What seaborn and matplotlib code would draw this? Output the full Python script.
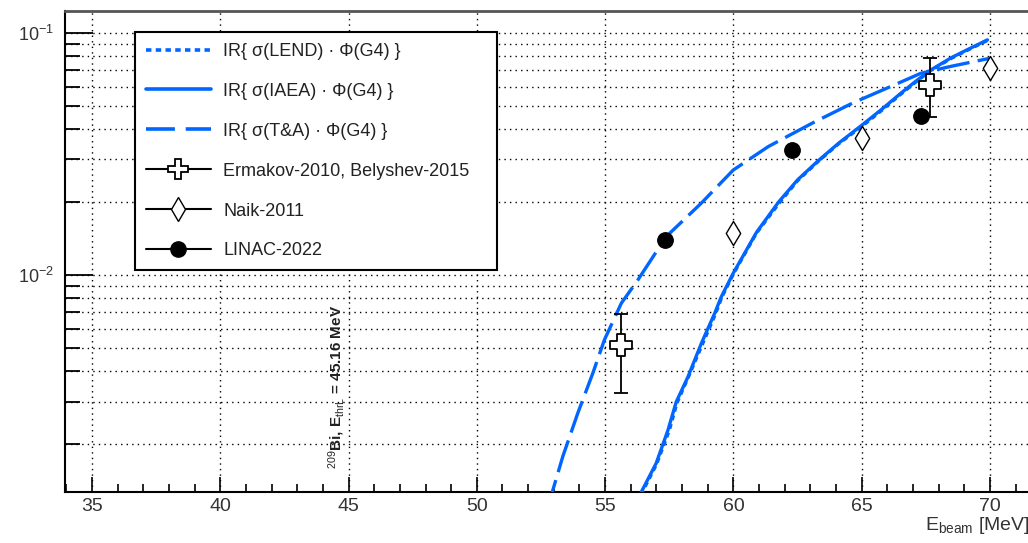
import numpy as np
import pandas as pd
import matplotlib
matplotlib.use("Agg")
import matplotlib.pyplot as plt
import seaborn as sns
from matplotlib.lines import Line2D
from matplotlib.ticker import LogLocator, MultipleLocator, NullFormatter, FixedLocator

# ---------------- data ----------------
iaea_x = [56.2, 56.41, 56.99, 57.45, 57.77, 58.23, 58.75, 59.27, 59.53, 60.0, 60.9, 61.76,
          62.5, 63.3, 64.1, 65.0, 65.8, 66.5, 67.1, 67.7, 68.5, 69.2, 69.9]
iaea_y = [0.00105, 0.00127, 0.00167, 0.00229, 0.00299, 0.0038, 0.00522, 0.00695, 0.00814,
          0.0102, 0.0150, 0.0200, 0.0247, 0.0296, 0.0350, 0.0415, 0.0485, 0.056, 0.063,
          0.0703, 0.079, 0.086, 0.0935]
lend_x = [56.2, 56.45, 57.0, 57.5, 57.8, 58.25, 58.8, 59.3, 59.55, 60.0, 60.9, 61.8,
          62.5, 63.3, 64.1, 65.0, 65.8, 66.5, 67.1, 67.7, 68.5, 69.2, 69.9]
lend_y = [0.00105, 0.00127, 0.00165, 0.00228, 0.00296, 0.0038, 0.0052, 0.0069, 0.0081,
          0.0101, 0.0149, 0.0199, 0.0245, 0.0294, 0.0348, 0.0410, 0.0480, 0.0555, 0.0625,
          0.0700, 0.0785, 0.0855, 0.093]
ta_x = [52.7, 52.95, 53.35, 53.93, 54.52, 54.97, 55.63, 56.28, 57.38, 58.75, 59.99, 61.36,
        63.08, 64.65, 66.13, 67.3, 68.46, 70.0]
ta_y = [0.00105, 0.00128, 0.00178, 0.00268, 0.00393, 0.00539, 0.00764, 0.00955, 0.0144,
        0.0198, 0.0271, 0.0339, 0.0424, 0.0513, 0.060, 0.068, 0.0726, 0.0785]

erm_x = [55.6, 67.66]
erm_y = [0.00514, 0.061]
erm_lo = [0.00324, 0.045]
erm_hi = [0.0069, 0.0788]

naik_x = [60.0, 65.0, 70.0]
naik_y = [0.0149, 0.0368, 0.0716]

linac_x = [57.35, 62.3, 67.3]
linac_y = [0.01396, 0.0329, 0.0454]

labels = ["IR{ σ(LEND) · Φ(G4) }", "IR{ σ(IAEA) · Φ(G4) }", "IR{ σ(T&A) · Φ(G4) }",
          "Ermakov-2010, Belyshev-2015", "Naik-2011", "LINAC-2022"]
x_ticks = [35, 40, 45, 50, 55, 60, 65, 70]
annot_text = r"$^{209}$Bi, E$_{\mathrm{thrL}}$ = 45.16 MeV"
annot_x = 45.0

# ---------------- style ----------------
sns.set_style("ticks")
plt.rcParams['font.family'] = ['Liberation Sans', 'DejaVu Sans']
plt.rcParams['mathtext.fontset'] = 'custom'
plt.rcParams['mathtext.rm'] = 'Liberation Sans'
plt.rcParams['mathtext.it'] = 'Liberation Sans:italic'
plt.rcParams['mathtext.bf'] = 'Liberation Sans:bold'

blue = "#0066FF"

fig = plt.figure(figsize=(10.28, 5.43), dpi=100)
ax = fig.add_axes([65/1028, 1 - 492/543, 1 - 65/1028 + 0.001, (492 - 11)/543])
ax.set_yscale("log")
ax.set_xlim(33.95, 71.52)
ax.set_ylim(0.00127, 0.123)

df_lend = pd.DataFrame({"x": lend_x, "y": lend_y})
df_iaea = pd.DataFrame({"x": iaea_x, "y": iaea_y})
df_ta = pd.DataFrame({"x": ta_x, "y": ta_y})

sns.lineplot(data=df_iaea, x="x", y="y", ax=ax, color=blue, lw=2.4, sort=False,
             estimator=None, zorder=3)
sns.lineplot(data=df_lend, x="x", y="y", ax=ax, color=blue, lw=2.4, sort=False,
             estimator=None, linestyle=(0, (1.5, 1.2)), zorder=3)
sns.lineplot(data=df_ta, x="x", y="y", ax=ax, color=blue, lw=2.4, sort=False,
             estimator=None, linestyle=(0, (10, 2.5)), zorder=3)

# data points
yerr = [np.array(erm_y) - np.array(erm_lo), np.array(erm_hi) - np.array(erm_y)]
ax.errorbar(erm_x, erm_y, yerr=yerr, fmt="none", ecolor="black", elinewidth=1.3,
            capsize=5, capthick=1.3, zorder=4)
sns.scatterplot(x=erm_x, y=erm_y, ax=ax, marker="P", s=250, facecolor="white",
                edgecolor="black", linewidth=1.3, zorder=5)
sns.scatterplot(x=naik_x, y=naik_y, ax=ax, marker="d", s=150, facecolor="white",
                edgecolor="black", linewidth=1.0, zorder=5)
sns.scatterplot(x=linac_x, y=linac_y, ax=ax, marker="o", s=125, color="black",
                edgecolor="black", zorder=5)

# ticks & grid
ax.xaxis.set_major_locator(FixedLocator(x_ticks))
ax.xaxis.set_minor_locator(MultipleLocator(1))
ax.yaxis.set_major_locator(LogLocator(base=10, numticks=10))
ax.yaxis.set_minor_locator(LogLocator(base=10, subs=np.arange(2, 10), numticks=20))
ax.yaxis.set_minor_formatter(NullFormatter())
ax.tick_params(axis="both", which="both", direction="in", top=False, right=False,
               labelsize=14, colors="black")
ax.tick_params(axis="y", which="major", length=20, width=1.3, pad=8, labelsize=13)
ax.tick_params(axis="y", which="minor", length=11, width=1.3)
ax.tick_params(axis="x", which="major", length=11, width=1.2, pad=4)
ax.tick_params(axis="x", which="minor", length=6, width=1.2)
for lab in ax.get_xticklabels() + ax.get_yticklabels():
    lab.set_color("#333333")

ax.grid(True, axis="x", which="major", color="black", linestyle=(0, (1, 3)), lw=1.0)
ax.grid(True, axis="y", which="both", color="black", linestyle=(0, (1, 3)), lw=1.0)
ax.set_axisbelow(True)

for s in ["left", "bottom"]:
    ax.spines[s].set_linewidth(1.5)
    ax.spines[s].set_color("black")
ax.spines["top"].set_linewidth(2.0)
ax.spines["top"].set_color("#555555")
ax.spines["right"].set_visible(False)

ax.set_xlabel("")
ax.set_ylabel("")

# axis title
fig.text(1030/1028, 1 - 526/543, r"E$_{\mathrm{beam}}$ [MeV]", ha="right", va="center",
         fontsize=14, color="#333333")

# threshold annotation
ax.text(annot_x - 0.05, 0.00158, annot_text, rotation=90, ha="right", va="bottom",
        fontsize=11, fontweight="bold", color="#222222", zorder=2)

# legend
handles = [
    Line2D([], [], color=blue, lw=2.6, linestyle=(0, (1.5, 1.2))),
    Line2D([], [], color=blue, lw=2.6),
    Line2D([], [], color=blue, lw=2.6, linestyle=(0, (8, 3))),
    Line2D([], [], color="black", lw=1.5, marker="P", ms=15, mfc="white", mec="black", mew=1.3),
    Line2D([], [], color="black", lw=1.5, marker="d", ms=12, mfc="white", mec="black", mew=1.0),
    Line2D([], [], color="black", lw=1.5, marker="o", ms=11, mfc="black", mec="black"),
]
x0, y0 = 135/1028, 1 - 272/543
w, h = (497 - 135)/1028, (272 - 32)/543
leg = ax.legend(handles, labels, loc="upper left", mode="expand",
                bbox_to_anchor=(x0, y0, w, h), bbox_transform=fig.transFigure,
                fontsize=13, frameon=True, fancybox=False, framealpha=1.0,
                edgecolor="black", handlelength=3.6, handletextpad=0.7,
                labelspacing=1.27, borderpad=0.6, borderaxespad=0)
leg.get_frame().set_linewidth(1.5)
for t in leg.get_texts():
    t.set_color("#222222")
leg.set_zorder(10)

fig.savefig("out.png", dpi=100)
